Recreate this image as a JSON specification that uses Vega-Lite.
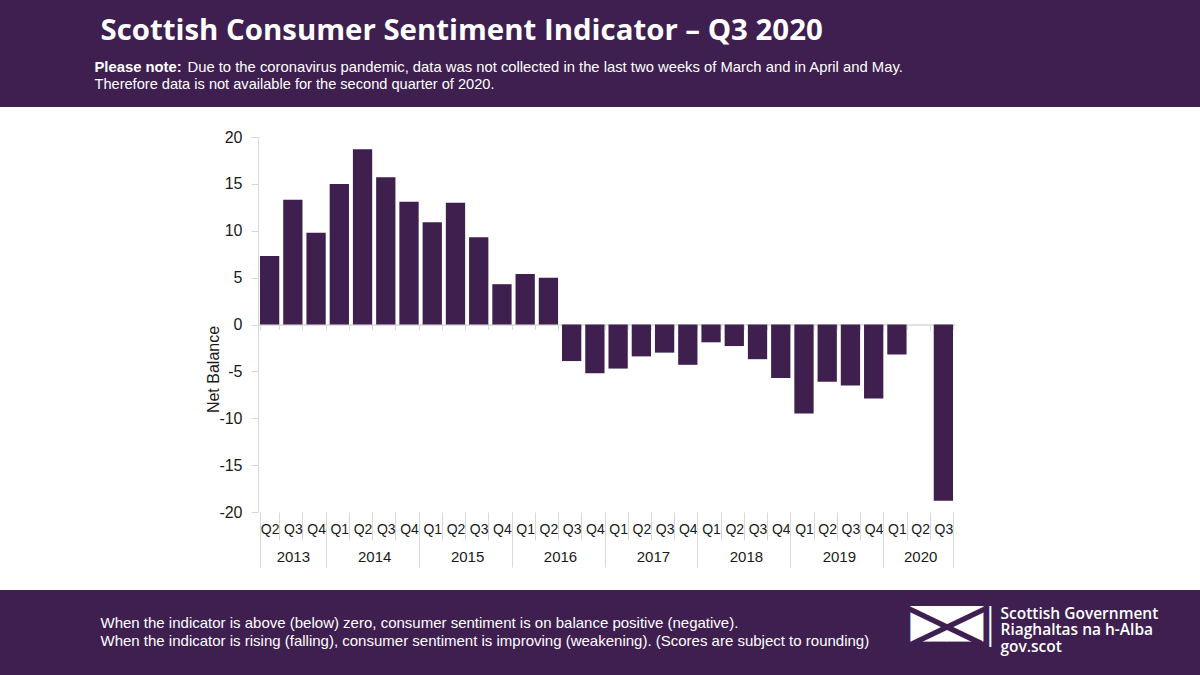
{
  "$schema": "https://vega.github.io/schema/vega-lite/v6.json",
  "autosize": {"type": "none"},
  "width": 1200,
  "height": 483,
  "padding": {"top": 107, "left": 0, "right": 0, "bottom": 85},
  "background": "#3e1f4f",
  "config": {
    "font": "Liberation Sans",
    "view": {"fill": "#ffffff", "stroke": null}
  },
  "data": {
    "values": [
      {"quarter": "2013 Q2", "net_balance": 7.3},
      {"quarter": "2013 Q3", "net_balance": 13.3},
      {"quarter": "2013 Q4", "net_balance": 9.8},
      {"quarter": "2014 Q1", "net_balance": 15.0},
      {"quarter": "2014 Q2", "net_balance": 18.7},
      {"quarter": "2014 Q3", "net_balance": 15.7},
      {"quarter": "2014 Q4", "net_balance": 13.1},
      {"quarter": "2015 Q1", "net_balance": 10.9},
      {"quarter": "2015 Q2", "net_balance": 13.0},
      {"quarter": "2015 Q3", "net_balance": 9.3},
      {"quarter": "2015 Q4", "net_balance": 4.3},
      {"quarter": "2016 Q1", "net_balance": 5.4},
      {"quarter": "2016 Q2", "net_balance": 5.0},
      {"quarter": "2016 Q3", "net_balance": -3.9},
      {"quarter": "2016 Q4", "net_balance": -5.2},
      {"quarter": "2017 Q1", "net_balance": -4.7},
      {"quarter": "2017 Q2", "net_balance": -3.4},
      {"quarter": "2017 Q3", "net_balance": -3.0},
      {"quarter": "2017 Q4", "net_balance": -4.3},
      {"quarter": "2018 Q1", "net_balance": -1.9},
      {"quarter": "2018 Q2", "net_balance": -2.3},
      {"quarter": "2018 Q3", "net_balance": -3.7},
      {"quarter": "2018 Q4", "net_balance": -5.7},
      {"quarter": "2019 Q1", "net_balance": -9.5},
      {"quarter": "2019 Q2", "net_balance": -6.1},
      {"quarter": "2019 Q3", "net_balance": -6.5},
      {"quarter": "2019 Q4", "net_balance": -7.9},
      {"quarter": "2020 Q1", "net_balance": -3.2},
      {"quarter": "2020 Q2", "net_balance": null},
      {"quarter": "2020 Q3", "net_balance": -18.8}
    ]
  },
  "encoding": {
    "x": {
      "field": "quarter",
      "type": "nominal",
      "sort": null,
      "scale": {
        "domain": ["2013 Q2","2013 Q3","2013 Q4","2014 Q1","2014 Q2","2014 Q3","2014 Q4","2015 Q1","2015 Q2","2015 Q3","2015 Q4","2016 Q1","2016 Q2","2016 Q3","2016 Q4","2017 Q1","2017 Q2","2017 Q3","2017 Q4","2018 Q1","2018 Q2","2018 Q3","2018 Q4","2019 Q1","2019 Q2","2019 Q3","2019 Q4","2020 Q1","2020 Q2","2020 Q3"],
        "range": [258, 955],
        "paddingInner": 0.17,
        "paddingOuter": 0.085
      }
    },
    "y": {
      "field": "net_balance",
      "type": "quantitative",
      "scale": {"domain": [-20, 20], "range": [405, 30], "nice": false, "zero": false}
    }
  },
  "layer": [
    {
      "mark": {"type": "bar", "color": "#3f1f4e"},
      "encoding": {
        "x": {
          "field": "quarter", "type": "nominal", "sort": null,
          "axis": {
            "orient": "bottom", "offset": -78,
            "domain": false, "grid": false,
            "ticks": true, "tickBand": "extent", "tickSize": 28, "tickColor": "#d9d9d9", "tickWidth": 1,
            "labelExpr": "split(datum.value, ' ')[1]",
            "labelAngle": 0, "labelPadding": -18, "labelFontSize": 14, "labelColor": "#1a1a1a", "labelOverlap": false,
            "title": ["When the indicator is above (below) zero, consumer sentiment is on balance positive (negative).", "When the indicator is rising (falling), consumer sentiment is improving (weakening). (Scores are subject to rounding)"],
            "titleX": 100, "titleY": 115, "titleAlign": "left", "titleAnchor": "start", "titleBaseline": "alphabetic",
            "titleColor": "#ffffff", "titleFontSize": 15, "titleFontWeight": "normal", "titleLineHeight": 18.5
          }
        },
        "y": {
          "field": "net_balance", "type": "quantitative",
          "axis": {
            "orient": "left", "offset": -258,
            "values": [-20, -15, -10, -5, 0, 5, 10, 15, 20],
            "labelExpr": "toString(datum.value)",
            "grid": false, "domain": true, "domainColor": "#d9d9d9", "domainWidth": 1,
            "ticks": true, "tickSize": 7, "tickColor": "#d9d9d9",
            "labelFontSize": 16, "labelColor": "#1a1a1a", "labelPadding": 9,
            "title": "Net Balance", "titleX": -40, "titleY": 262, "titleAlign": "center", "titleBaseline": "alphabetic",
            "titleFontSize": 16, "titleFontWeight": "normal", "titleColor": "#1a1a1a"
          }
        }
      }
    },
    {
      "mark": {"type": "bar", "opacity": 0},
      "encoding": {
        "x": {
          "field": "quarter", "type": "nominal", "sort": null,
          "axis": {
            "orient": "bottom", "offset": -78,
            "domain": false, "grid": false,
            "ticks": true, "tickBand": "extent", "tickColor": "#d9d9d9", "tickWidth": 1,
            "tickSize": {"condition": {"test": "datum.extra || split(datum.value, ' ')[1] == 'Q4' || datum.value == '2020 Q3'", "value": 55}, "value": 0},
            "labelExpr": "datum.value == '2013 Q3' || (split(datum.value, ' ')[1] == 'Q2' && datum.value != '2013 Q2') ? split(datum.value, ' ')[0] : ''",
            "labelOffset": {"condition": {"test": "split(datum.value, ' ')[1] == 'Q2' && datum.value != '2020 Q2'", "value": 11.6}, "value": 0},
            "labelAngle": 0, "labelPadding": 37, "labelFontSize": 15, "labelColor": "#1a1a1a", "labelOverlap": false,
            "title": "Please note:",
            "titleX": 94, "titleY": -440.5, "titleAlign": "left", "titleAnchor": "start", "titleBaseline": "alphabetic",
            "titleColor": "#ffffff", "titleFontSize": 14.8, "titleFontWeight": "bold"
          }
        },
        "y": {
          "field": "net_balance", "type": "quantitative",
          "axis": {
            "orient": "right", "offset": 0, "domain": false, "ticks": false, "labels": false, "grid": false,
            "title": ["Scottish Government", "Riaghaltas na h-Alba", "gov.scot"],
            "titleAngle": 0, "titleX": -200, "titleY": 511, "titleAlign": "left", "titleAnchor": "start", "titleBaseline": "alphabetic",
            "titleFont": "Open Sans", "titleFontSize": 15.5, "titleFontWeight": 600, "titleColor": "#ffffff", "titleLineHeight": 16.5
          }
        }
      }
    },
    {
      "mark": {"type": "bar", "opacity": 0},
      "encoding": {
        "x": {
          "field": "quarter", "type": "nominal", "sort": null,
          "axis": {
            "orient": "bottom", "offset": -265.5,
            "domain": true, "domainColor": "#d9d9d9", "domainWidth": 1.3, "grid": false,
            "ticks": true, "tickBand": "extent", "tickSize": 5, "tickColor": "#d9d9d9",
            "labels": false,
            "title": "Due to the coronavirus pandemic, data was not collected in the last two weeks of March and in April and May.",
            "titleX": 187, "titleY": -253, "titleAlign": "left", "titleAnchor": "start", "titleBaseline": "alphabetic",
            "titleColor": "#ffffff", "titleFontSize": 14.8, "titleFontWeight": "normal"
          }
        },
        "y": {
          "field": "net_balance", "type": "quantitative",
          "axis": {
            "orient": "right", "offset": 0, "domain": false, "ticks": false, "labels": false, "grid": false,
            "title": "████",
            "titleAngle": 0, "titleX": -290, "titleY": 526, "titleAlign": "left", "titleAnchor": "start", "titleBaseline": "alphabetic",
            "titleFont": "DejaVu Sans Mono", "titleFontSize": 30, "titleFontWeight": "normal", "titleColor": "#ffffff"
          }
        }
      }
    },
    {
      "mark": {"type": "bar", "opacity": 0},
      "encoding": {
        "x": {
          "field": "quarter", "type": "nominal", "sort": null,
          "axis": {
            "orient": "top", "offset": 0, "domain": false, "ticks": false, "labels": false, "grid": false,
            "title": "Therefore data is not available for the second quarter of 2020.",
            "titleX": 94, "titleY": -19, "titleAlign": "left", "titleAnchor": "start", "titleBaseline": "alphabetic",
            "titleColor": "#ffffff", "titleFontSize": 14.6, "titleFontWeight": "normal"
          }
        },
        "y": {
          "field": "net_balance", "type": "quantitative",
          "axis": {
            "orient": "left", "offset": 0, "domain": false, "ticks": false, "labels": false, "grid": false,
            "title": "Scottish Consumer Sentiment Indicator – Q3 2020",
            "titleAngle": 0, "titleX": 100, "titleY": -68, "titleAlign": "left", "titleAnchor": "start", "titleBaseline": "alphabetic",
            "titleFont": "Open Sans", "titleFontSize": 29.4, "titleFontWeight": "bold", "titleColor": "#ffffff"
          }
        }
      }
    },
    {
      "mark": {"type": "bar", "opacity": 0},
      "encoding": {
        "x": {
          "field": "quarter", "type": "nominal", "sort": null,
          "axis": {
            "orient": "top", "offset": 0, "domain": false, "ticks": false, "labels": false, "grid": false,
            "title": "|",
            "titleX": 983, "titleY": 529, "titleAlign": "left", "titleAnchor": "start", "titleBaseline": "alphabetic",
            "titleFont": "DejaVu Sans", "titleFontSize": 40, "titleFontWeight": 200, "titleColor": "#ffffff"
          }
        },
        "y": {
          "field": "net_balance", "type": "quantitative",
          "axis": {
            "orient": "right", "offset": 0, "domain": false, "ticks": false, "labels": false, "grid": false,
            "title": "—",
            "titleAngle": 25.6, "titleX": -253.5, "titleY": 515.5, "titleAlign": "center", "titleBaseline": "middle",
            "titleFont": "Liberation Sans", "titleFontSize": 80, "titleFontWeight": "normal", "titleColor": "#3e1f4f"
          }
        }
      }
    },
    {
      "mark": {"type": "bar", "opacity": 0},
      "encoding": {
        "x": {"field": "quarter", "type": "nominal", "sort": null, "axis": null},
        "y": {
          "field": "net_balance", "type": "quantitative",
          "axis": {
            "orient": "right", "offset": 0, "domain": false, "ticks": false, "labels": false, "grid": false,
            "title": "—",
            "titleAngle": -25.6, "titleX": -253.5, "titleY": 515.5, "titleAlign": "center", "titleBaseline": "middle",
            "titleFont": "Liberation Sans", "titleFontSize": 80, "titleFontWeight": "normal", "titleColor": "#3e1f4f"
          }
        }
      }
    }
  ],
  "resolve": {"axis": {"x": "independent", "y": "independent"}}
}
